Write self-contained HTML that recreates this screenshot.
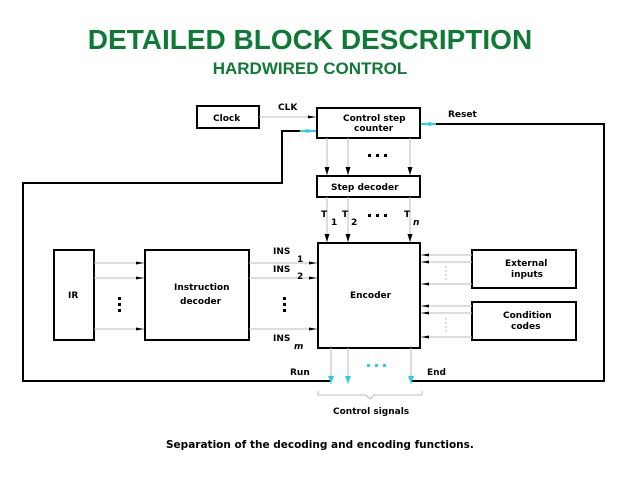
<!DOCTYPE html>
<html><head><meta charset="utf-8"><style>
html,body{margin:0;padding:0;background:#fff;}
svg{display:block;}
.t{font-family:"Liberation Sans",sans-serif;font-weight:bold;fill:#0f7a35;text-anchor:middle;}
.c{font-family:"DejaVu Sans","Liberation Sans",sans-serif;font-weight:bold;font-size:9px;fill:#000;}
</style></head><body>
<svg width="638" height="478" viewBox="0 0 638 478" xmlns="http://www.w3.org/2000/svg">
<defs>
<marker id="a" markerWidth="8" markerHeight="6" refX="8" refY="3" orient="auto" markerUnits="userSpaceOnUse"><path d="M0,1.5 L8,3 L0,4.5z" fill="#000"/></marker>
<marker id="b" markerWidth="8" markerHeight="8" refX="4" refY="8" orient="0" markerUnits="userSpaceOnUse"><path d="M1.5,0 L4,8 L6.5,0z" fill="#000"/></marker>
<marker id="cy" markerWidth="8" markerHeight="8" refX="4" refY="8" orient="0" markerUnits="userSpaceOnUse"><path d="M1,0 L4,8 L7,0z" fill="#2ad0e0"/></marker>
<marker id="cyr" markerWidth="10" markerHeight="6" refX="10" refY="3" orient="auto" markerUnits="userSpaceOnUse"><path d="M0,1 L10,3 L0,5z" fill="#2ad0e0"/></marker>
</defs>
<text class="t" x="310" y="49" font-size="28">DETAILED BLOCK DESCRIPTION</text>
<text class="t" x="310" y="74" font-size="17">HARDWIRED CONTROL</text>

<g fill="none" stroke="#000" stroke-width="2">
<rect x="197" y="106" width="62" height="22"/>
<rect x="317" y="108" width="103" height="30"/>
<rect x="317" y="176" width="103" height="21"/>
<rect x="318" y="243" width="102" height="105"/>
<rect x="54" y="250" width="40" height="90"/>
<rect x="145" y="250" width="104" height="90"/>
<rect x="472" y="250" width="104" height="38"/>
<rect x="472" y="302" width="104" height="38"/>
<polyline points="331,381 23,381 23,183 282,183 282,131 304,131"/>
<polyline points="411,381 604,381 604,124 432,124"/>
</g>
<g stroke="#2ad0e0" stroke-width="2"><line x1="300" y1="131" x2="316" y2="131" marker-end="url(#cyr)"/><line x1="436" y1="124" x2="421" y2="124" marker-end="url(#cyr)"/></g>

<g stroke="#bbb" stroke-width="1" fill="none">
<line x1="259" y1="117" x2="316" y2="117" marker-end="url(#a)"/>
<line x1="327" y1="138" x2="327" y2="175" marker-end="url(#b)"/>
<line x1="348" y1="138" x2="348" y2="175" marker-end="url(#b)"/>
<line x1="410" y1="138" x2="410" y2="175" marker-end="url(#b)"/>
<line x1="327" y1="197" x2="327" y2="242" marker-end="url(#b)"/>
<line x1="348" y1="197" x2="348" y2="242" marker-end="url(#b)"/>
<line x1="410" y1="197" x2="410" y2="242" marker-end="url(#b)"/>
<line x1="94" y1="263" x2="144" y2="263" marker-end="url(#a)"/>
<line x1="94" y1="278" x2="144" y2="278" marker-end="url(#a)"/>
<line x1="94" y1="329" x2="144" y2="329" marker-end="url(#a)"/>
<line x1="249" y1="263" x2="317" y2="263" marker-end="url(#a)"/>
<line x1="249" y1="278" x2="317" y2="278" marker-end="url(#a)"/>
<line x1="249" y1="329" x2="317" y2="329" marker-end="url(#a)"/>
<line x1="472" y1="255" x2="421" y2="255" marker-end="url(#a)"/>
<line x1="472" y1="262" x2="421" y2="262" marker-end="url(#a)"/>
<line x1="472" y1="284" x2="421" y2="284" marker-end="url(#a)"/>
<line x1="472" y1="306" x2="421" y2="306" marker-end="url(#a)"/>
<line x1="472" y1="313" x2="421" y2="313" marker-end="url(#a)"/>
<line x1="472" y1="337" x2="421" y2="337" marker-end="url(#a)"/>
<line x1="331" y1="348" x2="331" y2="384" marker-end="url(#cy)"/>
<line x1="348" y1="348" x2="348" y2="384" marker-end="url(#cy)"/>
<line x1="411" y1="348" x2="411" y2="384" marker-end="url(#cy)"/>
<path d="M318,391 L318,395 L366,395 L370,399 L374,395 L422,395 L422,391"/>
<line x1="446" y1="266" x2="446" y2="280" stroke-dasharray="2,2"/>
<line x1="446" y1="318" x2="446" y2="333" stroke-dasharray="2,2"/>
</g>
<g fill="#000">
<rect x="118" y="297" width="3" height="3"/><rect x="118" y="303" width="3" height="3"/><rect x="118" y="309" width="3" height="3"/>
<rect x="283" y="297" width="3" height="3"/><rect x="283" y="303" width="3" height="3"/><rect x="283" y="309" width="3" height="3"/>
<rect x="368" y="154" width="3" height="3"/><rect x="376" y="154" width="3" height="3"/><rect x="384" y="154" width="3" height="3"/>
<rect x="368" y="214" width="3" height="3"/><rect x="376" y="214" width="3" height="3"/><rect x="384" y="214" width="3" height="3"/>
</g>
<g fill="#2ad0e0"><rect x="367" y="364" width="3" height="3"/><rect x="375" y="364" width="3" height="3"/><rect x="383" y="364" width="3" height="3"/></g>

<g class="c">
<text x="213" y="121">Clock</text>
<text x="278" y="110">CLK</text>
<text x="343" y="121">Control step</text>
<text x="354" y="131">counter</text>
<text x="448" y="117">Reset</text>
<text x="331" y="190">Step decoder</text>
<text x="321" y="217">T</text><text x="331" y="225">1</text>
<text x="342" y="217">T</text><text x="351" y="225">2</text>
<text x="404" y="217">T</text><text x="413" y="225" font-style="italic">n</text>
<text x="68" y="298">IR</text>
<text x="174" y="290">Instruction</text>
<text x="180" y="304">decoder</text>
<text x="273" y="254">INS</text><text x="297" y="262">1</text>
<text x="273" y="272">INS</text><text x="297" y="279">2</text>
<text x="273" y="341">INS</text><text x="294" y="349" font-style="italic">m</text>
<text x="350" y="298">Encoder</text>
<text x="505" y="266">External</text>
<text x="511" y="277">inputs</text>
<text x="503" y="318">Condition</text>
<text x="511" y="329">codes</text>
<text x="290" y="375">Run</text>
<text x="427" y="375">End</text>
<text x="333" y="414">Control signals</text>
<text x="166" y="448" font-size="10.5">Separation of the decoding and encoding functions.</text>
</g>
</svg>
</body></html>
